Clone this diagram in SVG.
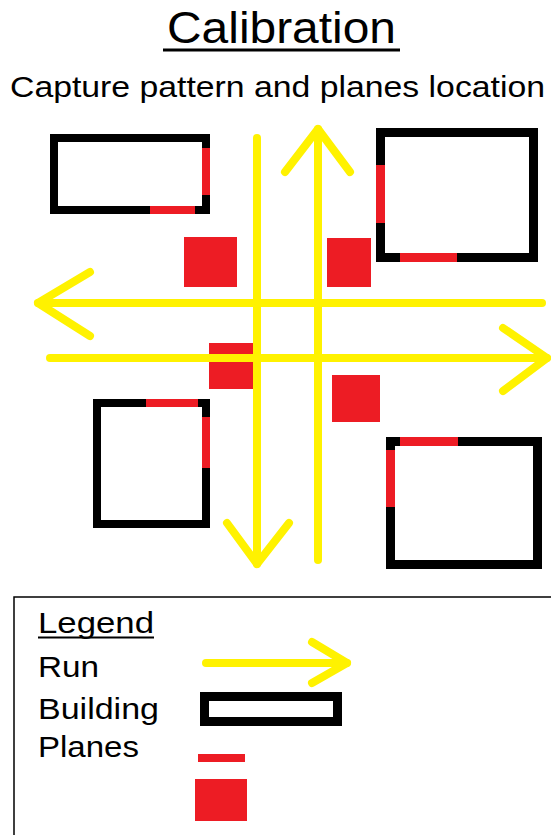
<svg xmlns="http://www.w3.org/2000/svg" width="551" height="835" viewBox="0 0 551 835">
<style>
  .txt { font-family: "Liberation Sans", Arial, sans-serif; fill: #000; }
  .bld { fill: #fff; stroke: #000; }
  .pl { stroke: #ED1C24; stroke-linecap: butt; fill: none; }
  .sq { fill: #ED1C24; }
  .run { stroke: #FFF200; stroke-width: 8; fill: none; stroke-linecap: round; stroke-linejoin: round; }
</style>
<rect width="551" height="835" fill="#fff"/>
<g id="title">
  <text class="txt" x="167" y="43" font-size="44" textLength="229" lengthAdjust="spacingAndGlyphs">Calibration</text>
  <rect x="163" y="48.5" width="237" height="3" fill="#000"/>
  <text class="txt" x="10" y="97" font-size="30" textLength="535" lengthAdjust="spacingAndGlyphs">Capture pattern and planes location</text>
</g>
<g id="building-top-left">
  <rect class="bld" x="54" y="138" width="152" height="72" stroke-width="8"/>
  <line class="pl" x1="206" y1="148" x2="206" y2="195" stroke-width="8"/>
  <line class="pl" x1="150" y1="210" x2="195" y2="210" stroke-width="8"/>
</g>
<g id="building-top-right">
  <rect class="bld" x="380.5" y="132.5" width="153" height="125" stroke-width="9"/>
  <line class="pl" x1="380.5" y1="165" x2="380.5" y2="223" stroke-width="9"/>
  <line class="pl" x1="400" y1="257.5" x2="457" y2="257.5" stroke-width="9"/>
</g>
<g id="building-bottom-left">
  <rect class="bld" x="97" y="403" width="109" height="121" stroke-width="8"/>
  <line class="pl" x1="146" y1="403" x2="198" y2="403" stroke-width="8"/>
  <line class="pl" x1="206" y1="417" x2="206" y2="468" stroke-width="8"/>
</g>
<g id="building-bottom-right">
  <rect class="bld" x="390.5" y="441.5" width="147" height="123" stroke-width="9"/>
  <line class="pl" x1="400" y1="441.5" x2="458" y2="441.5" stroke-width="9"/>
  <line class="pl" x1="390.5" y1="450" x2="390.5" y2="507" stroke-width="9"/>
</g>
<g id="plane-1"><rect class="sq" x="184" y="237" width="53" height="50"/></g>
<g id="plane-2"><rect class="sq" x="327" y="238" width="44" height="49"/></g>
<g id="plane-3"><rect class="sq" x="209" y="343" width="45" height="46"/></g>
<g id="plane-4"><rect class="sq" x="332" y="375" width="48" height="47"/></g>
<g id="connectors">
  <g id="run-left">
    <line class="run" x1="542" y1="303" x2="38" y2="303"/>
    <polyline class="run" points="90,272 38,303 90,336"/>
  </g>
  <g id="run-right">
    <line class="run" x1="50" y1="358" x2="547" y2="358"/>
    <polyline class="run" points="503,328 547,358 503,391"/>
  </g>
  <g id="run-down">
    <line class="run" x1="257" y1="138" x2="257" y2="564"/>
    <polyline class="run" points="227,523 257,564 289,523"/>
  </g>
  <g id="run-up">
    <line class="run" x1="318" y1="560" x2="318" y2="129"/>
    <polyline class="run" points="285,172 318,129 350,172"/>
  </g>
</g>
<g id="legend">
  <polyline points="14,835 14,597 551,597" fill="none" stroke="#000" stroke-width="1.5"/>
  <text class="txt" x="38" y="633" font-size="30" textLength="116" lengthAdjust="spacingAndGlyphs">Legend</text>
  <rect x="38" y="636.5" width="116" height="2" fill="#000"/>
  <text class="txt" x="38" y="677" font-size="30" textLength="61" lengthAdjust="spacingAndGlyphs">Run</text>
  <text class="txt" x="38" y="719" font-size="30" textLength="121" lengthAdjust="spacingAndGlyphs">Building</text>
  <text class="txt" x="38" y="757" font-size="30" textLength="101" lengthAdjust="spacingAndGlyphs">Planes</text>
  <g id="legend-run">
    <line class="run" x1="206" y1="663" x2="347" y2="663"/>
    <polyline class="run" points="312,642 347,663 312,683"/>
  </g>
  <rect id="legend-building" class="bld" x="204.5" y="696.5" width="133" height="25" stroke-width="9"/>
  <line id="legend-plane-line" class="pl" x1="198" y1="758" x2="245" y2="758" stroke-width="8" stroke-linecap="round"/>
  <rect id="legend-plane-square" class="sq" x="195" y="779" width="52" height="42"/>
</g>
</svg>
